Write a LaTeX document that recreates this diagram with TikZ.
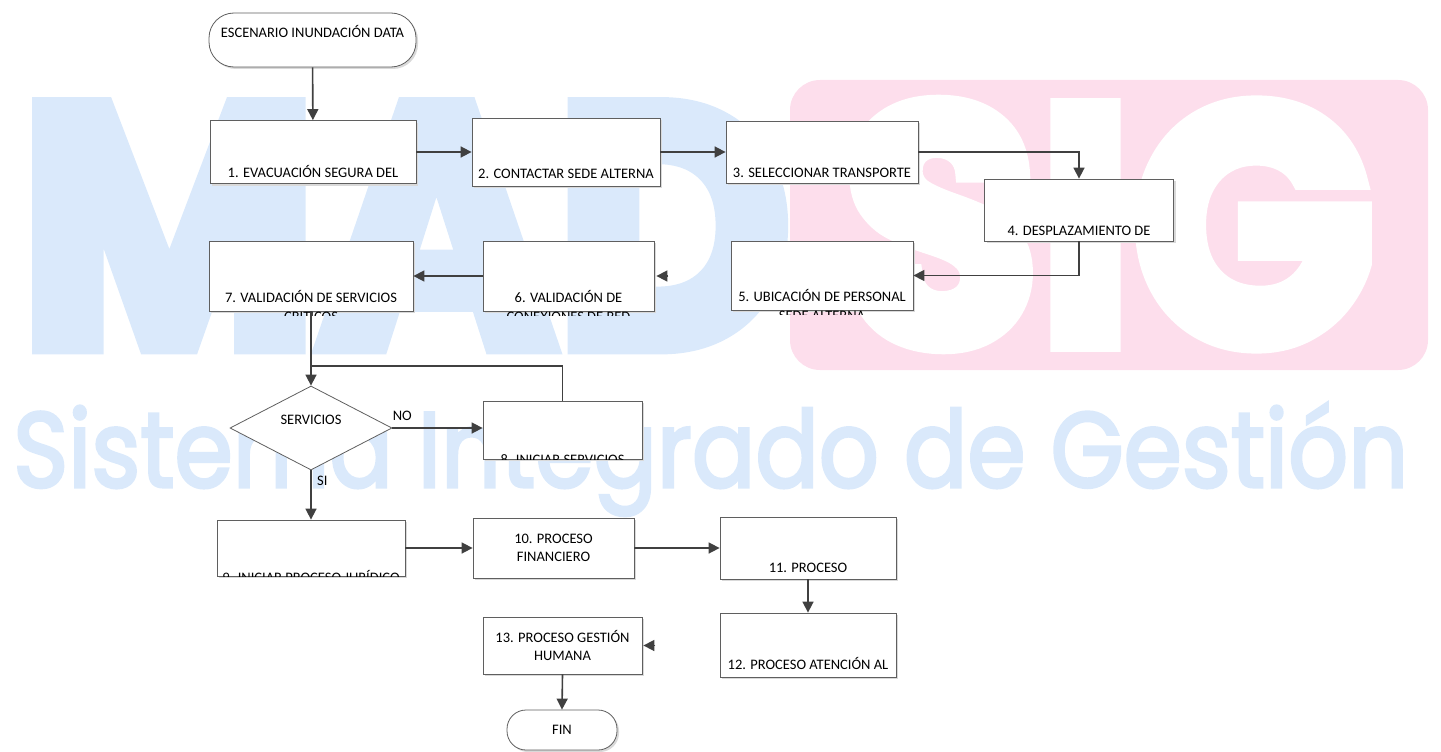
\documentclass[tikz,border=0pt]{standalone}
\usepackage{fontspec}
\setmainfont{Carlito}
\newfontfamily\wmfont{Poppins}[FakeBold=3]
\newfontfamily\wmfontbold{Poppins}[FakeBold=5]
\usetikzlibrary{positioning, shapes.geometric, shadows, arrows.meta}
\definecolor{wmblue}{RGB}{218,233,251}
\definecolor{wmpink}{RGB}{253,222,236}
\definecolor{linegray}{RGB}{64,64,64}
\definecolor{boxgray}{RGB}{95,95,95}
\tikzstyle{terminal} = [rectangle, draw=boxgray, fill=white, line width=0.8pt, drop shadow={shadow xshift=2pt, shadow yshift=-2pt, fill=black!15, opacity=1}]
\tikzstyle{paso} = [rectangle, draw=boxgray, fill=white, line width=0.8pt, inner sep=0pt, drop shadow={shadow xshift=2pt, shadow yshift=-2pt, fill=black!15, opacity=1}]
\tikzstyle{decision} = [diamond, draw=boxgray, fill=white, line width=0.8pt, inner sep=0pt]
\tikzstyle{arrow} = [line width=1.6pt, draw=linegray, -{Triangle[length=11pt,width=11pt]}]
\tikzstyle{conector} = [line width=1.6pt, draw=linegray]

\begin{document}
\begin{tikzpicture}[x=1pt, y=-1pt, font=\fontsize{14.5}{18}\selectfont]
\useasboundingbox (0,0) rectangle (1441,752);

% marca de agua
\node[anchor=south west, inner sep=0pt, text=wmblue] at (20,346) {\resizebox{770pt}{240pt}{\wmfontbold\bfseries MAD}};
\fill[wmpink, rounded corners=30pt] (790,80) rectangle (1428,370);
\node[anchor=south west, inner sep=0pt, text=white] at (843,346) {\resizebox{530pt}{240pt}{\wmfontbold\bfseries SIG}};
\node[anchor=base west, inner sep=0pt, text=wmblue] at (13,487) {\resizebox{1395pt}{84pt}{\wmfont Sistema Integrado de Gestión}};

% pasos
\node (start) [terminal, rounded corners=25pt, minimum width=207pt, minimum height=54pt, label={[anchor=base, yshift=8.5pt]center:ESCENARIO INUNDACIÓN DATA}] at (312.5,40) {};
\node (evacuacion) [paso, minimum width=206pt, minimum height=63pt, label={[anchor=base, yshift=6pt]south:1. EVACUACIÓN SEGURA DEL}] at (313,152) {};
\node (contactar) [paso, minimum width=188pt, minimum height=68pt, label={[anchor=base, yshift=8pt]south:2. CONTACTAR SEDE ALTERNA}] at (566,152) {};
\node (transporte) [paso, minimum width=192pt, minimum height=62pt, label={[anchor=base, yshift=6pt]south:3. SELECCIONAR TRANSPORTE}] at (822,152) {};
\node (desplazamiento) [paso, minimum width=189pt, minimum height=62pt, label={[anchor=base, yshift=6pt]south:4. DESPLAZAMIENTO DE}] at (1079,210) {};
\node (ubicacion) [paso, minimum width=182pt, minimum height=69pt, label={[anchor=base, yshift=9pt]south:5. UBICACIÓN DE PERSONAL}] at (822,275.5) {};
\node (conexiones) [paso, minimum width=171pt, minimum height=70pt, label={[anchor=base, yshift=9pt]south:6. VALIDACIÓN DE}] at (568.5,276) {};
\node (validacion) [paso, minimum width=204pt, minimum height=70pt, label={[anchor=base, yshift=9pt]south:7. VALIDACIÓN DE SERVICIOS}] at (311,276) {};
\node (servicios) [decision, minimum width=162pt, minimum height=84pt, label={[anchor=base, yshift=8pt]center:SERVICIOS}] at (311,428) {};
\node (iniciar) [paso, minimum width=159pt, minimum height=58pt] at (562.5,430) {};
\node (juridico) [paso, minimum width=188pt, minimum height=56pt] at (311,548) {};
\node (financiero) [paso, minimum width=161pt, minimum height=60pt, align=center] at (553.5,548) {10. PROCESO\\FINANCIERO};
\node (proceso) [paso, minimum width=176pt, minimum height=62pt, label={[anchor=base, yshift=7pt]south:11. PROCESO}] at (808,548) {};
\node (atencion) [paso, minimum width=176pt, minimum height=64pt, label={[anchor=base, yshift=8pt]south:12. PROCESO ATENCIÓN AL}] at (808,645) {};
\node (humana) [paso, minimum width=159pt, minimum height=57pt, align=center] at (562.5,645.5) {13. PROCESO GESTIÓN\\HUMANA};
\node (end) [terminal, rounded corners=19pt, minimum width=110pt, minimum height=40pt] at (562,730) {FIN};

% textos cortados
\begin{scope}
\clip (ubicacion.south west) rectangle ([yshift=-4pt]ubicacion.south east);
\node[anchor=base] at ([yshift=-10pt]ubicacion.south) {SEDE ALTERNA};
\end{scope}
\begin{scope}
\clip (conexiones.south west) rectangle ([yshift=-4pt]conexiones.south east);
\node[anchor=base] at ([yshift=-10pt]conexiones.south) {CONEXIONES DE RED};
\end{scope}
\begin{scope}
\clip (validacion.south west) rectangle ([yshift=-4pt]validacion.south east);
\node[anchor=base] at ([yshift=-10pt]validacion.south) {CRÍTICOS};
\end{scope}
\begin{scope}
\clip (iniciar.north west) rectangle (iniciar.south east);
\node[anchor=base] at ([yshift=-5pt]iniciar.south) {8. INICIAR SERVICIOS};
\end{scope}
\begin{scope}
\clip (juridico.north west) rectangle (juridico.south east);
\node[anchor=base] at ([yshift=-6pt]juridico.south) {9. INICIAR PROCESO JURÍDICO};
\end{scope}

% conectores
\coordinate (merge) at (311,366);
\draw [arrow] (start) -- (evacuacion);
\draw [arrow] (evacuacion.east) -- (evacuacion.east -| contactar.west);
\draw [arrow] (contactar.east) -- (contactar.east -| transporte.west);
\draw [arrow] (transporte.east) -| (desplazamiento.north);
\draw [arrow] (desplazamiento.south) |- (ubicacion.east);
\draw [arrow] ([xshift=14pt]conexiones.east) -- ([xshift=2pt]conexiones.east);
\draw [arrow] (conexiones.west) -- (conexiones.west -| validacion.east);
\draw [arrow] (validacion.south) -- (servicios.north);
\draw [conector] (iniciar.north) |- (merge);
\draw [arrow] (servicios.east) -- node [pos=0.11, above=3pt] {NO} (servicios.east -| iniciar.west);
\draw [arrow] (servicios.south) -- node [pos=0.22, right=2pt] {SI} (juridico.north);
\draw [arrow] (juridico.east) -- (juridico.east -| financiero.west);
\draw [arrow] (financiero.east) -- (financiero.east -| proceso.west);
\draw [arrow] (proceso.south) -- (atencion.north);
\draw [arrow] ([xshift=13pt]humana.east) -- ([xshift=1pt]humana.east);
\draw [arrow] (humana.south) -- (end.north);
\end{tikzpicture}
\end{document}
